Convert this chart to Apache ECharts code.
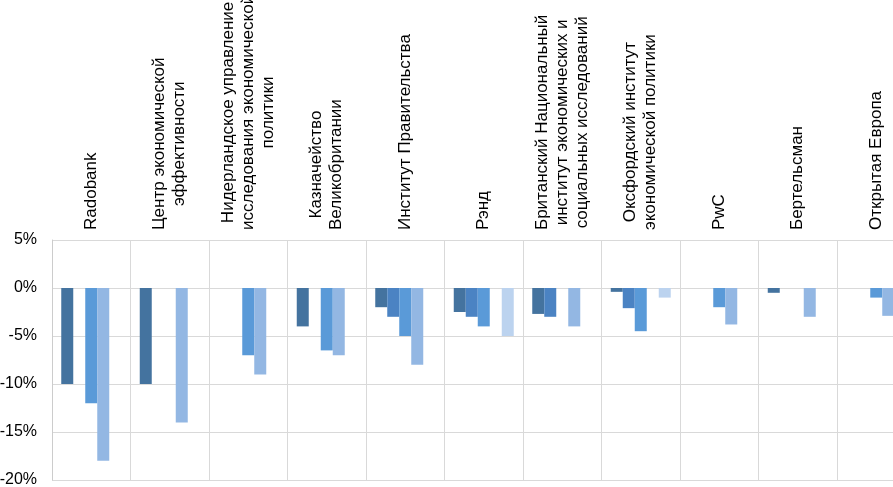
<!DOCTYPE html>
<html>
<head>
<meta charset="utf-8">
<script src="https://cdn.jsdelivr.net/npm/echarts@6/dist/echarts.min.js"></script>
<style>
html,body{margin:0;padding:0;background:#fff;}
#chart{width:893px;height:487px;}
</style>
</head>
<body>
<div id="chart"></div>
<script>
const categories = [
  "Radobank",
  "Центр экономической\nэффективности",
  "Нидерландское управление\nисследования экономической\nполитики",
  "Казначейство\nВеликобритании",
  "Институт Правительства",
  "Рэнд",
  "Британский Национальный\nинститут экономических и\nсоциальных исследований",
  "Оксфордский институт\nэкономической политики",
  "PwC",
  "Бертельсман",
  "Открытая Европа"
];
const series1 = [-10, -10, null, -4, -2, -2.5, -2.7, -0.4, null, -0.5, null];
const series2 = [null, null, null, null, -3, -3, -3, -2.1, null, null, null];
const series3 = [-12, null, -7, -6.5, -5, -4, null, -4.5, -2, null, -1];
const series4 = [-18, -14, -9, -7, -8, null, -4, null, -3.8, -3, -2.9];
const series5 = [null, null, null, null, null, -5, null, -1, null, null, null];
const seriesNames = ["Серия 1", "Серия 2", "Серия 3", "Серия 4", "Серия 5"];
const yTicks = { min: -20, max: 5, interval: 5 };

const colors = ["#44739f", "#4b83c3", "#5a9ad8", "#93b7e3", "#bcd3ef"];
const font = "'Liberation Sans', Arial, sans-serif";

const chart = echarts.init(document.getElementById('chart'));
const allSeries = [series1, series2, series3, series4, series5].map((d, i) => ({
  name: seriesNames[i],
  type: 'bar',
  data: d,
  barWidth: 12,
  barGap: '0%',
  itemStyle: { color: colors[i] },
  animation: false
}));

chart.setOption({
  animation: false,
  grid: { left: 52, right: -22.5, top: 240, bottom: 7, containLabel: false, outerBoundsMode: 'none' },
  xAxis: {
    type: 'category',
    position: 'top',
    data: categories,
    axisLine: { show: false },
    axisTick: { show: false },
    splitLine: { show: true, interval: 0, lineStyle: { color: '#d9d9d9', width: 1 } },
    axisLabel: {
      interval: 0,
      rotate: 90,
      margin: 10,
      formatter: function (v) {
        return v.split('\n').map(s => '{c|' + s + '}').join('\n');
      },
      rich: {
        c: { align: 'center', fontSize: 17, lineHeight: 20, fontFamily: font, color: '#000' }
      }
    }
  },
  yAxis: {
    type: 'value',
    min: yTicks.min,
    max: yTicks.max,
    interval: yTicks.interval,
    axisLine: { show: true, lineStyle: { color: '#cccccc' } },
    axisTick: { show: false },
    splitLine: { show: true, lineStyle: { color: '#d9d9d9', width: 1 } },
    axisLabel: {
      formatter: '{value}%',
      fontSize: 16,
      fontFamily: font,
      color: '#000',
      margin: 15
    }
  },
  series: allSeries
});
</script>
</body>
</html>
